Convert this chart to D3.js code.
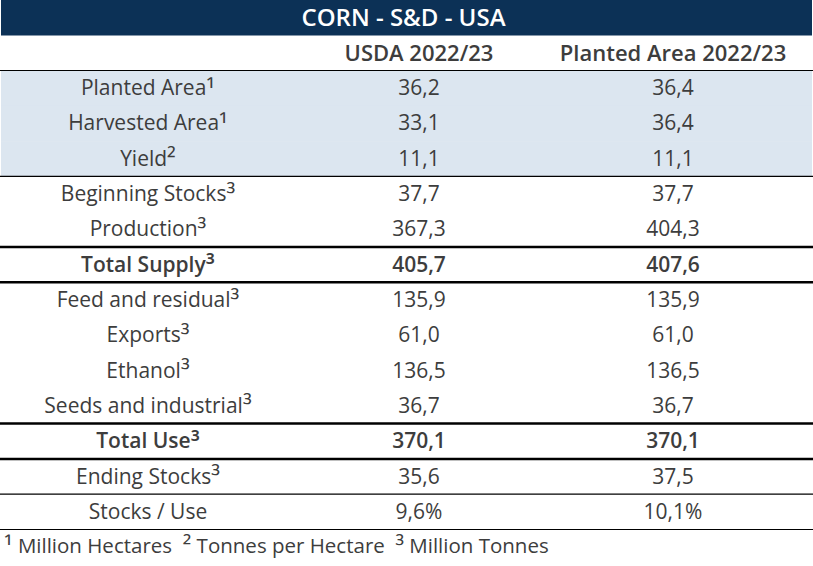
<!DOCTYPE html>
<html>
<head>
<meta charset="utf-8">
<script src="https://cdn.jsdelivr.net/npm/d3@7"></script>
<style>
  html, body { margin: 0; padding: 0; background: #fff; }
  svg { display: block; font-family: "Open Sans", Roboto, sans-serif; }
</style>
</head>
<body>
<div id="chart"></div>
<script>
// Table content
const title = 'CORN - S&D - USA';
const columns = ['USDA 2022/23', 'Planted Area 2022/23'];
const labels = [
    'Planted Area¹', 'Harvested Area¹', 'Yield²', 'Beginning Stocks³', 'Production³',
    'Total Supply³', 'Feed and residual³', 'Exports³', 'Ethanol³', 'Seeds and industrial³',
    'Total Use³', 'Ending Stocks³', 'Stocks / Use'
];
const usda = [36.2, 33.1, 11.1, 37.7, 367.3, 405.7, 135.9, 61.0, 136.5, 36.7, 370.1, 35.6, 9.6];
const planted = [36.4, 36.4, 11.1, 37.7, 404.3, 407.6, 135.9, 61.0, 136.5, 36.7, 370.1, 37.5, 10.1];
const percentRows = ['Stocks / Use'];
const boldRows = ['Total Supply³', 'Total Use³'];
const shadedRows = ['Planted Area¹', 'Harvested Area¹', 'Yield²'];
// rule drawn under each row: 1 = thin, 2 = thick
const ruleAfter = [0, 0, 1, 0, 2, 2, 0, 0, 0, 2, 2, 1, 1];
const footnote = '¹ Million Hectares  ² Tonnes per Hectare  ³ Million Tonnes';

const W = 813, H = 566;
const textColor = '#3d3d3d';
const navy = '#0c3156';
const shade = '#dce6f0';

const svg = d3.select('#chart').append('svg')
    .attr('width', W)
    .attr('height', H);

// Scales
const y = d3.scaleBand()
    .domain(labels)
    .range([70.5, 529.5])
    .padding(0);

const x = d3.scaleOrdinal()
    .domain(['label', ...columns])
    .range([148, 419, 673]);

const fmt = (v, label) => {
    const s = d3.format('.1f')(v).replace('.', ',');
    return percentRows.includes(label) ? s + '%' : s;
};

// Write text with the superscript digits a bit larger (Open Sans draws them tiny)
function richText(sel, str, base) {
    const drop = base * 0.12;
    const parts = str.split(/([¹²³])/).filter(p => p !== '');
    let shifted = false;
    parts.forEach(p => {
        const sup = /[¹²³]/.test(p);
        const t = sel.append('tspan').text(p);
        if (sup) {
            t.style('font-size', (base * 1.2) + 'px').attr('dy', drop);
            shifted = true;
        } else if (shifted) {
            t.attr('dy', -drop);
            shifted = false;
        }
    });
}

// Title bar
svg.append('rect')
    .attr('x', 1).attr('y', 0)
    .attr('width', W - 2).attr('height', 35.5)
    .attr('fill', navy);

svg.append('text')
    .attr('x', 403.5)
    .attr('y', 17.5)
    .attr('dy', '0.35em')
    .attr('text-anchor', 'middle')
    .attr('fill', '#fff')
    .style('font-size', '24px')
    .style('font-weight', 600)
    .text(title);

// Column headers
svg.selectAll('text.col')
    .data(columns)
    .join('text')
    .attr('class', 'col')
    .attr('x', d => x(d))
    .attr('y', 53)
    .attr('dy', '0.35em')
    .attr('text-anchor', 'middle')
    .attr('fill', textColor)
    .style('font-size', '22px')
    .style('font-weight', 600)
    .text(d => d);

// Shaded rows
svg.selectAll('rect.shade')
    .data(shadedRows)
    .join('rect')
    .attr('class', 'shade')
    .attr('x', 1)
    .attr('y', d => y(d))
    .attr('width', W - 2)
    .attr('height', y.bandwidth() + 0.5)
    .attr('fill', shade);

// Header rule
svg.append('line')
    .attr('x1', 0).attr('x2', W)
    .attr('y1', 70.5).attr('y2', 70.5)
    .attr('stroke', '#000')
    .attr('stroke-width', 1.2);

// Row rules
svg.selectAll('line.rule')
    .data(labels.filter((d, i) => ruleAfter[i] > 0))
    .join('line')
    .attr('class', 'rule')
    .attr('x1', 0).attr('x2', W)
    .attr('y1', d => y(d) + y.bandwidth())
    .attr('y2', d => y(d) + y.bandwidth())
    .attr('stroke', '#000')
    .attr('stroke-width', d => ruleAfter[labels.indexOf(d)] === 2 ? 2.5 : 1.2);

// Rows
const rows = svg.selectAll('g.row')
    .data(labels)
    .join('g')
    .attr('class', 'row')
    .attr('transform', d => `translate(0,${y(d) + y.bandwidth() / 2 + 7})`)
    .style('font-weight', d => boldRows.includes(d) ? 600 : 400);

rows.append('text')
    .attr('x', x('label'))
    .attr('text-anchor', 'middle')
    .attr('fill', textColor)
    .style('font-size', '21px')
    .each(function (d) { richText(d3.select(this), d, 21); });

rows.append('text')
    .attr('x', x(columns[0]))
    .attr('text-anchor', 'middle')
    .attr('fill', textColor)
    .style('font-size', '21px')
    .text((d, i) => fmt(usda[i], d));

rows.append('text')
    .attr('x', x(columns[1]))
    .attr('text-anchor', 'middle')
    .attr('fill', textColor)
    .style('font-size', '21px')
    .text((d, i) => fmt(planted[i], d));

// Footnote
svg.append('text')
    .attr('x', 4)
    .attr('y', 553)
    .attr('fill', textColor)
    .style('font-size', '20.5px')
    .style('white-space', 'pre')
    .call(richText, footnote, 20.5);
</script>
</body>
</html>
